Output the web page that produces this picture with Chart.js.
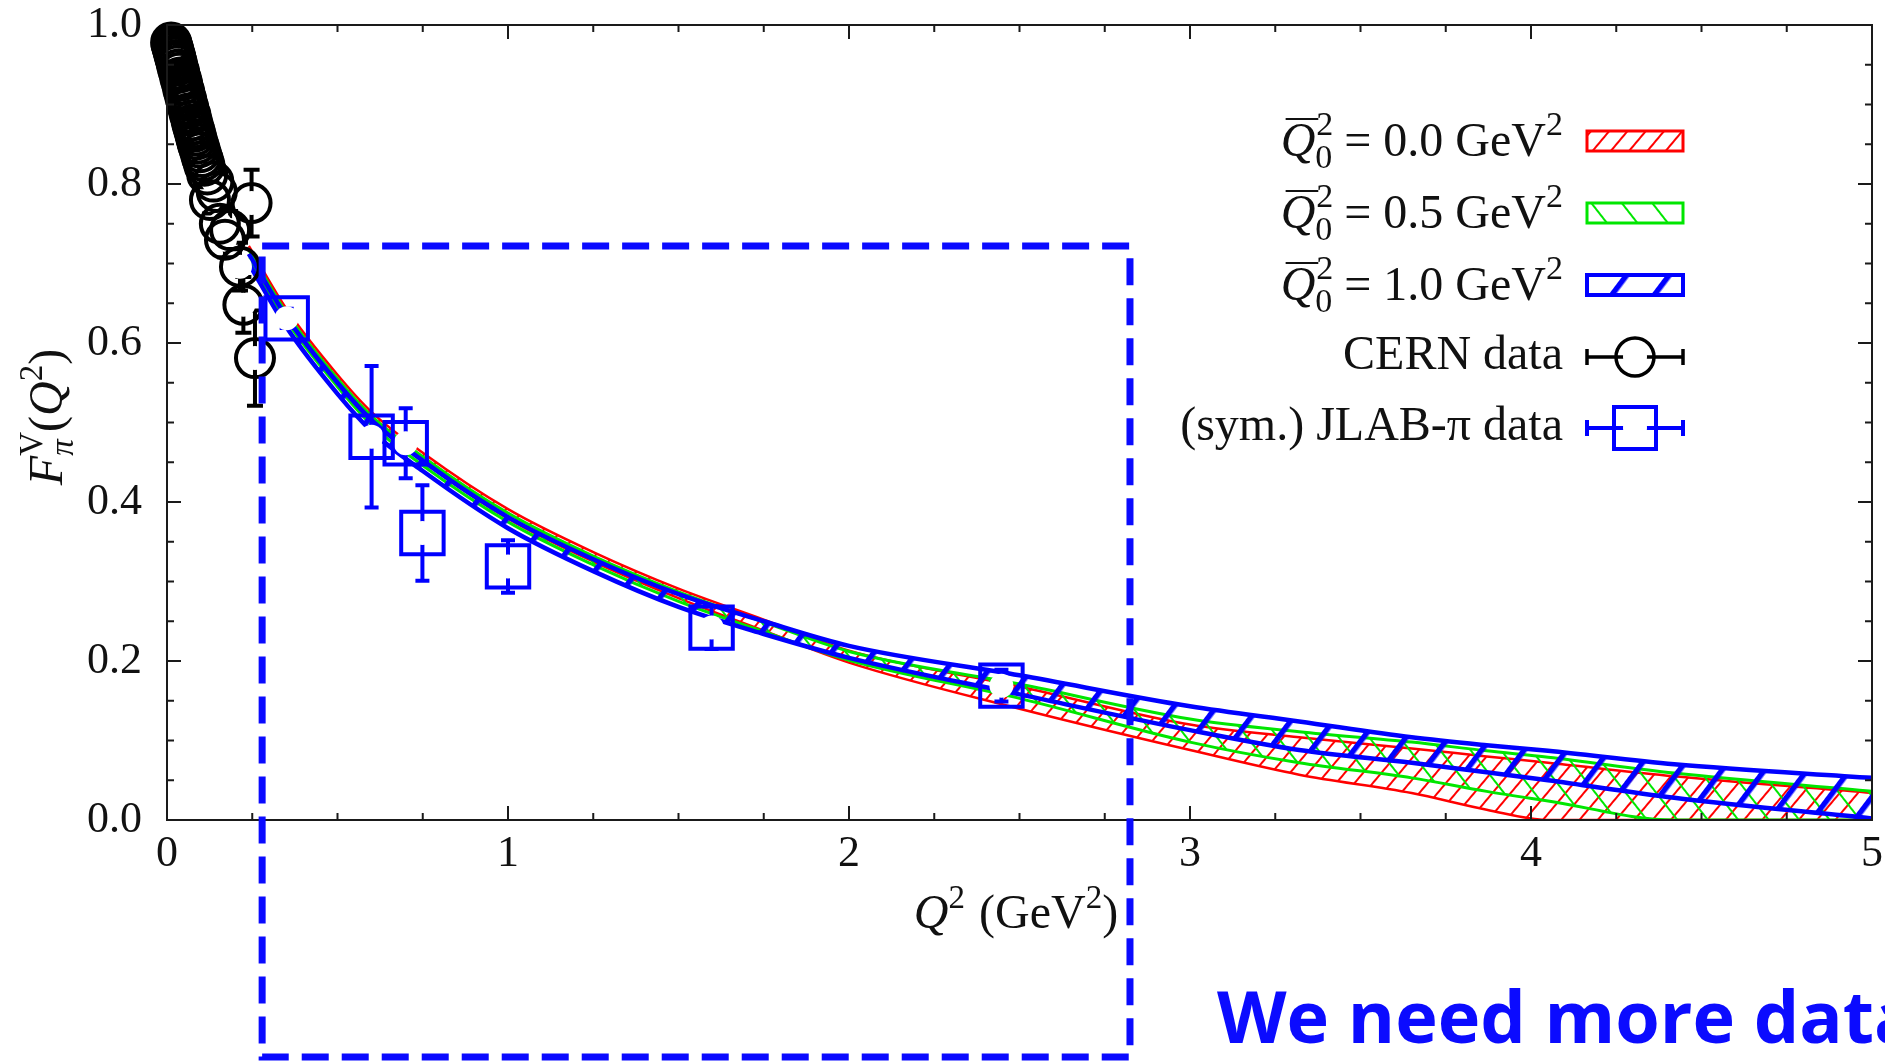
<!DOCTYPE html>
<html>
<head>
<meta charset="utf-8">
<title>Pion vector form factor</title>
<script src="https://cdn.jsdelivr.net/npm/chart.js@4.4.1/dist/chart.umd.min.js"></script>
<style>
  html, body { margin: 0; padding: 0; background: #fff; overflow: hidden; }
  canvas { display: block; }
</style>
</head>
<body>
<canvas id="ffChart" width="1885" height="1062"></canvas>
<script>
// --- band edges, sampled on a common Q^2 grid (GeV^2) ---
const q2Grid     = [0.24, 0.35, 0.5, 0.6, 0.75, 1.0, 1.25, 1.5, 1.75, 2.0, 2.5, 3.0, 3.32, 3.65, 3.87, 4.05, 4.42, 5.0];
const redUpper   = [0.722, 0.643, 0.560, 0.513, 0.462, 0.391, 0.337, 0.291, 0.252, 0.213, 0.168, 0.120, 0.104, 0.090, 0.080, 0.072, 0.055, 0.034];
const redLower   = [0.712, 0.633, 0.549, 0.502, 0.451, 0.379, 0.325, 0.279, 0.238, 0.198, 0.140, 0.088, 0.057, 0.034, 0.013, 0.000, 0.000, 0.000];
const greenUpper = [0.717, 0.638, 0.555, 0.508, 0.457, 0.386, 0.332, 0.287, 0.249, 0.212, 0.171, 0.127, 0.111, 0.098, 0.087, 0.079, 0.059, 0.036];
const greenLower = [0.707, 0.628, 0.545, 0.497, 0.446, 0.375, 0.321, 0.275, 0.237, 0.201, 0.153, 0.098, 0.072, 0.053, 0.036, 0.024, 0.000, 0.000];
const blueUpper  = [0.712, 0.633, 0.550, 0.503, 0.452, 0.381, 0.328, 0.284, 0.250, 0.219, 0.182, 0.143, 0.124, 0.104, 0.094, 0.087, 0.070, 0.053];
const blueLower  = [0.700, 0.620, 0.536, 0.489, 0.439, 0.367, 0.313, 0.268, 0.234, 0.204, 0.158, 0.113, 0.088, 0.072, 0.060, 0.050, 0.028, 0.002];

// --- CERN (NA7) points ---
const cernQ2  = [0.012, 0.014, 0.016, 0.018, 0.020, 0.022, 0.024, 0.026, 0.028, 0.030, 0.033, 0.036, 0.039, 0.042, 0.045, 0.048, 0.051,
                 0.054, 0.057, 0.060, 0.063, 0.066, 0.069, 0.072, 0.075, 0.078, 0.081, 0.084, 0.087, 0.090, 0.094, 0.098, 0.102,
                 0.106, 0.110, 0.118, 0.126, 0.136, 0.146, 0.155, 0.170, 0.185, 0.214, 0.224, 0.248, 0.258];
const cernF   = [0.978, 0.975, 0.972, 0.969, 0.966, 0.962, 0.960, 0.956, 0.953, 0.949, 0.944, 0.940, 0.934, 0.930, 0.925, 0.919, 0.915,
                 0.909, 0.905, 0.899, 0.895, 0.889, 0.886, 0.880, 0.875, 0.870, 0.866, 0.861, 0.856, 0.851, 0.846, 0.840, 0.834,
                 0.829, 0.823, 0.812, 0.780, 0.803, 0.790, 0.750, 0.730, 0.742, 0.696, 0.648, 0.776, 0.581];
const cernErr = [0.008, 0.008, 0.008, 0.008, 0.008, 0.008, 0.008, 0.008, 0.008, 0.009, 0.009, 0.009, 0.009, 0.009, 0.010, 0.010, 0.010,
                 0.010, 0.010, 0.011, 0.011, 0.011, 0.011, 0.012, 0.012, 0.012, 0.012, 0.013, 0.013, 0.013, 0.014, 0.014, 0.014,
                 0.015, 0.015, 0.016, 0.017, 0.018, 0.019, 0.020, 0.022, 0.024, 0.030, 0.035, 0.042, 0.060];

// --- JLAB pion points (symmetrised errors) ---
const jlabQ2  = [0.351, 0.600, 0.700, 0.749, 1.000, 1.597, 2.447];
const jlabF   = [0.631, 0.482, 0.474, 0.361, 0.319, 0.242, 0.169];
const jlabErr = [0.012, 0.089, 0.044, 0.060, 0.033, 0.027, 0.020];

// --- legend entries ---
const q0Values   = ['0.0', '0.5', '1.0'];
const dataLabels = ['CERN data', '(sym.) JLAB-\u03c0 data'];

// --- axis ranges and tick spacing ---
const xRange = [0, 5], yRange = [0, 1];
const xMinorStep = 0.25, yMinorStep = 0.05;
const xLabelStep = 1, yLabelStep = 0.2;

const SERIF = '"Liberation Serif", "Times New Roman", serif';
const BLUE = '#0000ff', RED = '#ff0000', GREEN = '#00e600';

function font(size, style) { return (style ? style + ' ' : '') + size + 'px ' + SERIF; }

// hatch fill: stripes rotated by `angle` degrees
function hatch(color, gap, lw, angle) {
    const tile = document.createElement('canvas');
    tile.width = gap; tile.height = 8;
    const t = tile.getContext('2d');
    t.fillStyle = color;
    t.fillRect(0, 0, lw, 8);
    const p = t.createPattern(tile, 'repeat');
    p.setTransform(new DOMMatrix().rotate(angle));
    return p;
}
const redHatch = hatch(RED, 14, 2, 40);
const greenHatch = hatch(GREEN, 24, 2, -38);
const blueHatch = hatch(BLUE, 34, 5.5, 37);

function edge(label, values, color, width, order, fill, pattern) {
    return {
        type: 'line', label, showLine: true,
        data: q2Grid.map((x, i) => ({ x, y: values[i] })),
        borderColor: color, borderWidth: width,
        backgroundColor: pattern || 'rgba(0,0,0,0)',
        pointRadius: 0, fill: fill,
        cubicInterpolationMode: 'monotone', order
    };
}

const datasets = [
    edge('red low', redLower, RED, 2.5, 6, false),
    edge('red high', redUpper, RED, 2.5, 6, '-1', redHatch),
    edge('green low', greenLower, GREEN, 3, 4, false),
    edge('green high', greenUpper, GREEN, 3, 4, '-1', greenHatch),
    edge('blue low', blueLower, BLUE, 4.5, 2, false),
    edge('blue high', blueUpper, BLUE, 4.5, 2, '-1', blueHatch),
    {
        label: dataLabels[0], data: cernQ2.map((x, i) => ({ x, y: cernF[i] })),
        errors: cernErr, pointStyle: 'circle', pointRadius: 19, borderWidth: 4,
        borderColor: '#000', backgroundColor: 'rgba(0,0,0,0)', innerR: 12, capHalf: 8,
        clip: false, order: 1
    },
    {
        label: dataLabels[1], data: jlabQ2.map((x, i) => ({ x, y: jlabF[i] })),
        errors: jlabErr, pointStyle: 'rect', pointRadius: 30, borderWidth: 4,
        borderColor: BLUE, backgroundColor: 'rgba(0,0,0,0)', innerR: 12, capHalf: 7,
        clip: false, order: 0
    }
];

// error bar + white centre, drawn under each marker
const errorBars = {
    id: 'errorBars',
    beforeDatasetDraw(chart, args) {
        const ds = chart.data.datasets[args.index];
        if (!ds.errors) return;
        const ctx = chart.ctx, ys = chart.scales.y;
        ctx.save();
        ctx.strokeStyle = ds.borderColor;
        ctx.lineWidth = ds.borderWidth;
        args.meta.data.forEach((pt, i) => {
            const v = ds.data[i].y, e = ds.errors[i];
            const top = ys.getPixelForValue(v + e), bot = ys.getPixelForValue(v - e);
            ctx.beginPath();
            ctx.moveTo(pt.x, top); ctx.lineTo(pt.x, bot);
            ctx.moveTo(pt.x - ds.capHalf, top); ctx.lineTo(pt.x + ds.capHalf, top);
            ctx.moveTo(pt.x - ds.capHalf, bot); ctx.lineTo(pt.x + ds.capHalf, bot);
            ctx.stroke();
        });
        ctx.fillStyle = '#fff';
        args.meta.data.forEach(pt => {
            ctx.beginPath();
            ctx.arc(pt.x, pt.y, ds.innerR, 0, Math.PI * 2);
            ctx.fill();
        });
        ctx.restore();
    }
};

// draws a run of text pieces (sup/sub, italic, overline) from x
function richWidth(ctx, parts) {
    return parts.reduce((w, p) => {
        if (p.stack) return w + Math.max(...p.stack.map(s => { ctx.font = s.f; return ctx.measureText(s.t).width; }));
        ctx.font = p.f;
        return w + ctx.measureText(p.t).width + (p.pad || 0);
    }, 0);
}
function drawRich(ctx, parts, x, y, align) {
    const total = richWidth(ctx, parts);
    let cx = align === 'right' ? x - total : align === 'center' ? x - total / 2 : x;
    ctx.textAlign = 'left';
    ctx.textBaseline = 'alphabetic';
    parts.forEach(p => {
        if (p.stack) {
            let w = 0;
            p.stack.forEach(s => {
                ctx.font = s.f;
                ctx.fillText(s.t, cx + (s.dx || 0), y + s.dy);
                w = Math.max(w, ctx.measureText(s.t).width);
            });
            cx += w;
            return;
        }
        ctx.font = p.f;
        ctx.fillText(p.t, cx, y + (p.dy || 0));
        const w = ctx.measureText(p.t).width;
        if (p.over) {
            ctx.save();
            ctx.lineWidth = 2;
            ctx.strokeStyle = ctx.fillStyle;
            ctx.beginPath();
            ctx.moveTo(cx + 5, y - 37); ctx.lineTo(cx + w + 3, y - 37);
            ctx.stroke();
            ctx.restore();
        }
        cx += w + (p.pad || 0);
    });
}

function swatch(ctx, x, y, w, h, color, pattern, lw) {
    ctx.save();
    ctx.fillStyle = pattern;
    ctx.fillRect(x, y, w, h);
    ctx.strokeStyle = color;
    ctx.lineWidth = lw;
    ctx.strokeRect(x, y, w, h);
    ctx.restore();
}

function markerSample(ctx, x0, x1, cy, color, lw, shape) {
    const cx = (x0 + x1) / 2;
    ctx.save();
    ctx.strokeStyle = color;
    ctx.lineWidth = lw;
    ctx.beginPath();
    ctx.moveTo(x0, cy); ctx.lineTo(x1, cy);
    ctx.moveTo(x0, cy - 8); ctx.lineTo(x0, cy + 8);
    ctx.moveTo(x1, cy - 8); ctx.lineTo(x1, cy + 8);
    ctx.stroke();
    ctx.fillStyle = '#fff';
    ctx.beginPath(); ctx.arc(cx, cy, 12, 0, Math.PI * 2); ctx.fill();
    ctx.beginPath();
    if (shape === 'circle') ctx.arc(cx, cy, 19, 0, Math.PI * 2);
    else ctx.rect(cx - 21, cy - 21, 42, 42);
    ctx.stroke();
    ctx.restore();
}

// frame, inward ticks, tick labels, axis titles and key
const frame = {
    id: 'frame',
    afterDatasetsDraw(chart) {
        const ctx = chart.ctx, a = chart.chartArea;
        const xs = chart.scales.x, ys = chart.scales.y;
        const near = (v, step) => Math.abs(v / step - Math.round(v / step)) < 1e-6;
        ctx.save();
        ctx.strokeStyle = '#1a1a1a';
        ctx.lineWidth = 2;
        ctx.strokeRect(a.left, a.top, a.right - a.left, a.bottom - a.top);
        ctx.beginPath();
        xs.ticks.forEach(t => {
            const px = xs.getPixelForValue(t.value);
            const len = near(t.value, xLabelStep) ? 14 : 7;
            ctx.moveTo(px, a.bottom); ctx.lineTo(px, a.bottom - len);
            ctx.moveTo(px, a.top); ctx.lineTo(px, a.top + len);
        });
        ys.ticks.forEach(t => {
            const py = ys.getPixelForValue(t.value);
            const len = near(t.value, yLabelStep) ? 14 : 7;
            ctx.moveTo(a.left, py); ctx.lineTo(a.left + len, py);
            ctx.moveTo(a.right, py); ctx.lineTo(a.right - len, py);
        });
        ctx.stroke();

        ctx.fillStyle = '#111';
        ctx.font = font(44);
        ctx.textBaseline = 'middle';
        ctx.textAlign = 'center';
        xs.ticks.forEach(t => {
            if (!near(t.value, xLabelStep)) return;
            ctx.fillText(String(Math.round(t.value)), xs.getPixelForValue(t.value), a.bottom + 34);
        });
        ctx.textAlign = 'right';
        ys.ticks.forEach(t => {
            if (!near(t.value, yLabelStep)) return;
            ctx.fillText(t.value.toFixed(1), a.left - 25, ys.getPixelForValue(t.value));
        });

        // x title: Q^2 (GeV^2)
        drawRich(ctx, [
            { t: 'Q', f: font(48, 'italic') },
            { t: '2', f: font(33), dy: -20, pad: 14 },
            { t: '(GeV', f: font(48) },
            { t: '2', f: font(33), dy: -20 },
            { t: ')', f: font(48) }
        ], 1016, 928, 'center');

        // y title: F_pi^V(Q^2), rotated
        ctx.save();
        ctx.translate(62, 417);
        ctx.rotate(-Math.PI / 2);
        drawRich(ctx, [
            { t: 'F', f: font(48, 'italic') },
            { stack: [{ t: 'V', f: font(33), dy: -20 }, { t: '\u03c0', f: font(33, 'italic'), dy: 11 }], },
            { t: '(', f: font(48) },
            { t: 'Q', f: font(48, 'italic') },
            { t: '2', f: font(33), dy: -20 },
            { t: ')', f: font(48) }
        ], 0, 0, 'center');
        ctx.restore();

        // key
        const textRight = 1563, sx = 1587, sw = 96;
        const rows = [141, 213, 285, 357, 428];
        const bands = [[RED, redHatch, 3], [GREEN, greenHatch, 3], [BLUE, blueHatch, 4]];
        q0Values.forEach((val, i) => {
            drawRich(ctx, [
                { t: 'Q', f: font(48, 'italic'), over: true },
                { stack: [{ t: '2', f: font(34), dy: -21, dx: 1 }, { t: '0', f: font(34), dy: 12 }], },
                { t: ' = ' + val + ' GeV', f: font(48) },
                { t: '2', f: font(34), dy: -21 }
            ], textRight, rows[i] + 15, 'right');
            swatch(ctx, sx, rows[i] - 10, sw, 20, bands[i][0], bands[i][1], bands[i][2]);
        });
        ctx.font = font(48);
        ctx.textAlign = 'right';
        ctx.textBaseline = 'alphabetic';
        ctx.fillText(dataLabels[0], textRight, rows[3] + 12);
        ctx.fillText(dataLabels[1], textRight, rows[4] + 12);
        markerSample(ctx, sx, sx + sw, rows[3], '#000', 3.5, 'circle');
        markerSample(ctx, sx, sx + sw, rows[4], BLUE, 4, 'rect');
        ctx.restore();
    }
};

// dashed highlight box and callout
const highlightBox = { x0: 0.279, x1: 2.824, y0: -0.298, y1: 0.722 };
const callout = 'We need more data';
const overlay = {
    id: 'overlay',
    afterDraw(chart) {
        const ctx = chart.ctx, xs = chart.scales.x, ys = chart.scales.y;
        const l = xs.getPixelForValue(highlightBox.x0), r = xs.getPixelForValue(highlightBox.x1);
        const t = ys.getPixelForValue(highlightBox.y1), b = ys.getPixelForValue(highlightBox.y0);
        ctx.save();
        ctx.strokeStyle = '#0a0aff';
        ctx.lineWidth = 7;
        ctx.setLineDash([27, 13]);
        ctx.strokeRect(l, t, r - l, b - t);
        ctx.setLineDash([]);
        ctx.fillStyle = '#0b0bff';
        ctx.font = 'bold 72px "Open Sans", Lato, sans-serif';
        ctx.textAlign = 'left';
        ctx.textBaseline = 'alphabetic';
        ctx.fillText(callout, 1217, 1043);
        ctx.restore();
    }
};

new Chart(document.getElementById('ffChart'), {
    type: 'scatter',
    data: { datasets },
    options: {
        responsive: false,
        animation: false,
        events: [],
        layout: { autoPadding: false, padding: { top: 25, right: 13, left: 0, bottom: 0 } },
        plugins: { legend: { display: false }, tooltip: { enabled: false } },
        scales: {
            x: {
                type: 'linear', min: xRange[0], max: xRange[1],
                ticks: { display: false, stepSize: xMinorStep },
                grid: { display: false }, border: { display: false },
                afterFit(s) { s.height = 242; }
            },
            y: {
                type: 'linear', min: yRange[0], max: yRange[1],
                ticks: { display: false, stepSize: yMinorStep },
                grid: { display: false }, border: { display: false },
                afterFit(s) { s.width = 167; }
            }
        }
    },
    plugins: [errorBars, frame, overlay]
});
</script>
</body>
</html>
